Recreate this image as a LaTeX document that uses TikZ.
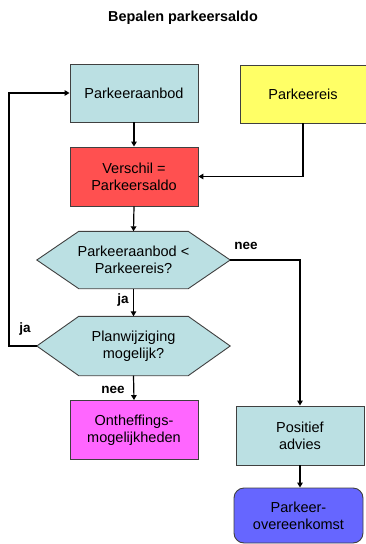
\documentclass[tikz,border=0pt]{standalone}
\usepackage{fontspec}
\setmainfont{Liberation Sans}
\usetikzlibrary{backgrounds,arrows.meta,calc}

\definecolor{paleblue}{HTML}{BBE0E3}
\definecolor{sunyellow}{HTML}{FFFF66}
\definecolor{alertred}{HTML}{FF5050}
\definecolor{brightpink}{HTML}{FF66FF}
\definecolor{violetblue}{HTML}{6666FF}
\definecolor{edgegray}{HTML}{404040}

\tikzset{
  box/.style={draw=edgegray, line width=0.9pt, minimum width=128pt,
    minimum height=58pt, inner sep=0pt, align=center,
    font=\fontsize{14.5}{17}\selectfont},
  decision/.style={minimum width=193pt, minimum height=57pt, inner sep=0pt,
    align=center, font=\fontsize{14.5}{17}\selectfont},
  hexborder/.style={draw=edgegray, line width=0.9pt, fill=paleblue},
  flow/.style={line width=1.2pt, -{Triangle[length=5pt,width=5.5pt]}},
  lbl/.style={font=\bfseries\fontsize{13.5}{16}\selectfont, inner sep=0pt},
}

% hexagonal outline drawn behind a decision node
\newcommand{\hexoutline}[1]{%
  \begin{scope}[on background layer]
    \draw[hexborder] (#1.west) -- ([xshift=42pt]#1.north west)
      -- ([xshift=-42pt]#1.north east) -- (#1.east)
      -- ([xshift=-42pt]#1.south east) -- ([xshift=42pt]#1.south west)
      -- cycle;
  \end{scope}}

\begin{document}
\begin{tikzpicture}[x=1pt, y=-1pt]
  \useasboundingbox (0,0) rectangle (365,544);

  \node[font=\bfseries\fontsize{14.4}{17}\selectfont] (title) at (183,18)
    {Bepalen parkeersaldo};

  \node[box, fill=paleblue] (aanbod) at (134,93) {Parkeeraanbod};
  \node[box, fill=sunyellow, minimum width=126pt] (eis) at (303,94) {Parkeereis};
  \node[box, fill=alertred, minimum height=59pt] (saldo) at (134,176.5)
    {Verschil =\\Parkeersaldo};

  \node[decision] (q1) at (133.5,260) {Parkeeraanbod <\\Parkeereis?};
  \hexoutline{q1}
  \node[decision, minimum height=59pt] (q2) at (133.5,346)
    {Planwijziging\\mogelijk?};
  \hexoutline{q2}

  \node[box, fill=brightpink, minimum height=59pt] (onth) at (134,430)
    {Ontheffings-\\mogelijkheden};
  \node[box, fill=paleblue, minimum height=59pt] (pos) at (300,435.5)
    {Positief\\advies};
  \node[box, fill=violetblue, rounded corners=10pt, minimum width=129pt,
    minimum height=55pt] (overeen) at (298.5,515.5)
    {Parkeer-\\overeenkomst};

  % connectors
  \draw[flow] (aanbod.south) -- (saldo.north);
  \draw[flow] (eis.south) -- (eis.south |- saldo.east) -- (saldo.east);
  \draw[flow] (saldo.south) -- (q1.north);
  \draw[flow] (q1.south) -- (q2.north);
  \draw[flow] (q1.east) -- (pos.north |- q1.east) -- (pos.north);
  \coordinate (loop) at (9,346);
  \draw[flow] (q2.west) -- (loop) -- (loop |- aanbod.west) -- (aanbod.west);
  \draw[flow] (q2.south) -- (onth.north);
  \draw[flow] (pos.south) -- (pos.south |- overeen.north);

  % branch labels
  \node[lbl] (ja1) at (123,300) {ja};
  \node[lbl] (nee1) at (246,246) {nee};
  \node[lbl] (ja2) at (25,329) {ja};
  \node[lbl] (nee2) at (113,390) {nee};
\end{tikzpicture}
\end{document}
